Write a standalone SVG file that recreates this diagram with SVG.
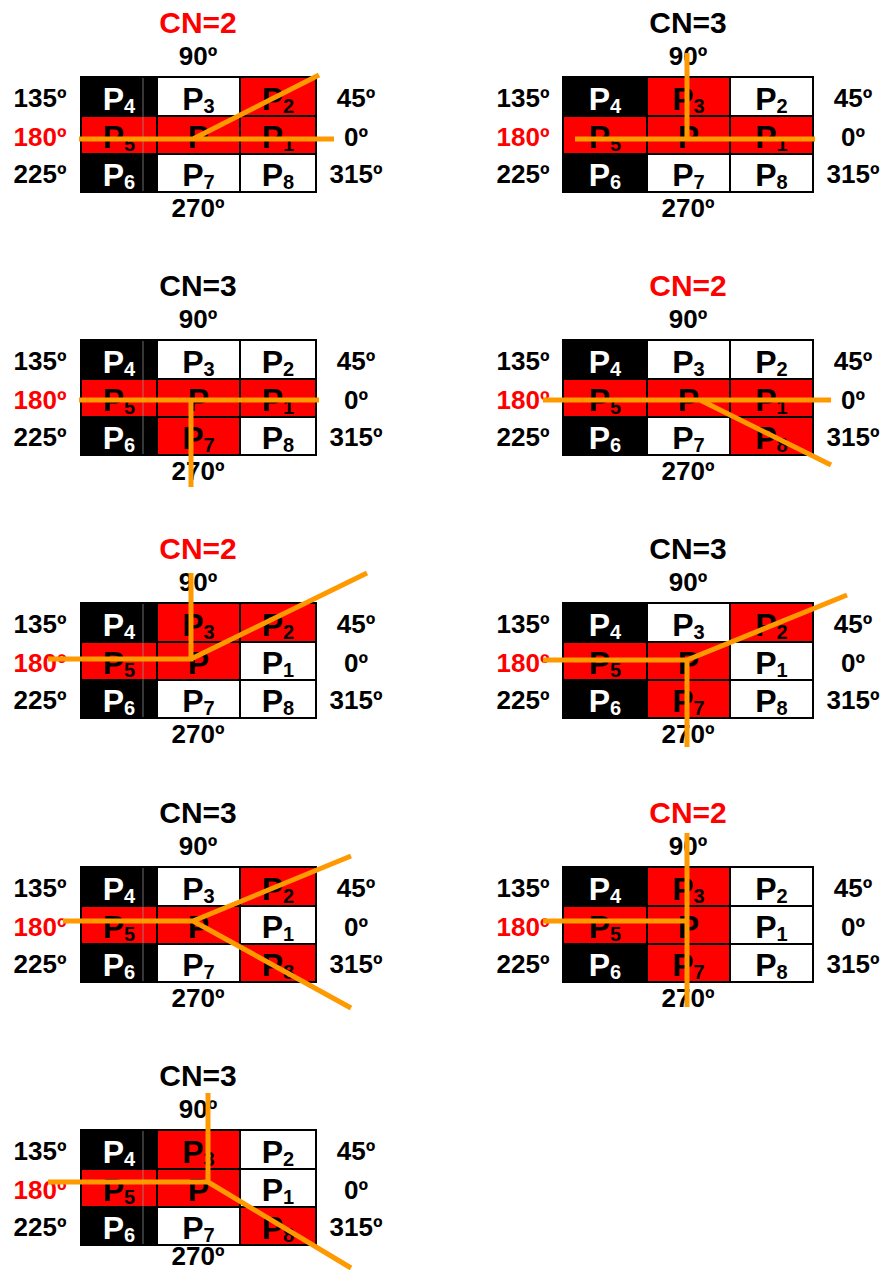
<svg xmlns="http://www.w3.org/2000/svg" width="884" height="1272" viewBox="0 0 884 1272">
<style>
text{font-family:"Liberation Sans",Arial,sans-serif;font-weight:bold;text-anchor:middle}
.cn{font-size:30px;fill:#000}
.lb{font-size:26px;fill:#000}
.red{fill:#FF0000}
.p{font-size:32px;fill:#000}
.pw{font-size:32px;fill:#fff}
.s{font-size:20px}
.k{fill:#000;stroke:#000;stroke-width:2}
.r{fill:#FF0000;stroke:#000;stroke-width:2}
.w{fill:#fff;stroke:#000;stroke-width:2}
.gl{stroke:#9a9a9a;stroke-width:1;opacity:0.7}
.o{fill:none;stroke:#FF9900;stroke-width:5;stroke-linejoin:miter}
</style>
<rect width="884" height="1272" fill="#fff"/>

<!-- Left panel 1 -->
<g id="panel-L1">
<text class="cn red" x="198" y="33">CN=2</text>
<text class="lb" x="198" y="65">90º</text>
<text class="lb" x="40" y="107">135º</text>
<text class="lb red" x="40" y="146">180º</text>
<text class="lb" x="40" y="183">225º</text>
<text class="lb" x="356" y="107">45º</text>
<text class="lb" x="356" y="146">0º</text>
<text class="lb" x="356" y="183">315º</text>
<text class="lb" x="198" y="217">270º</text>
<rect class="k" x="81" y="77" width="76" height="39"/>
<rect class="w" x="157" y="77" width="83" height="39"/>
<rect class="r" x="240" y="77" width="76" height="39"/>
<rect class="r" x="81" y="116" width="76" height="38"/>
<rect class="r" x="157" y="116" width="83" height="38"/>
<rect class="r" x="240" y="116" width="76" height="38"/>
<rect class="k" x="81" y="154" width="76" height="38"/>
<rect class="w" x="157" y="154" width="83" height="38"/>
<rect class="w" x="240" y="154" width="76" height="38"/>
<line class="gl" x1="143" y1="78" x2="143" y2="191"/>
<text class="pw" x="119" y="110">P<tspan class="s" dy="3">4</tspan></text>
<text class="p" x="198.5" y="110">P<tspan class="s" dy="3">3</tspan></text>
<text class="p" x="278" y="110">P<tspan class="s" dy="3">2</tspan></text>
<text class="p" x="119" y="148">P<tspan class="s" dy="3">5</tspan></text>
<text class="p" x="198.5" y="148">P</text>
<text class="p" x="278" y="148">P<tspan class="s" dy="3">1</tspan></text>
<text class="pw" x="119" y="186">P<tspan class="s" dy="3">6</tspan></text>
<text class="p" x="198.5" y="186">P<tspan class="s" dy="3">7</tspan></text>
<text class="p" x="278" y="186">P<tspan class="s" dy="3">8</tspan></text>
</g>

<!-- Right panel 1 -->
<g id="panel-R1">
<text class="cn" x="688" y="33">CN=3</text>
<text class="lb" x="688" y="65">90º</text>
<text class="lb" x="523" y="107">135º</text>
<text class="lb red" x="523" y="146">180º</text>
<text class="lb" x="523" y="183">225º</text>
<text class="lb" x="853" y="107">45º</text>
<text class="lb" x="853" y="146">0º</text>
<text class="lb" x="853" y="183">315º</text>
<text class="lb" x="688" y="217">270º</text>
<rect class="k" x="563" y="77" width="84" height="39"/>
<rect class="r" x="647" y="77" width="83" height="39"/>
<rect class="w" x="730" y="77" width="83" height="39"/>
<rect class="r" x="563" y="116" width="84" height="38"/>
<rect class="r" x="647" y="116" width="83" height="38"/>
<rect class="r" x="730" y="116" width="83" height="38"/>
<rect class="k" x="563" y="154" width="84" height="38"/>
<rect class="w" x="647" y="154" width="83" height="38"/>
<rect class="w" x="730" y="154" width="83" height="38"/>
<text class="pw" x="605" y="110">P<tspan class="s" dy="3">4</tspan></text>
<text class="p" x="688.5" y="110">P<tspan class="s" dy="3">3</tspan></text>
<text class="p" x="771.5" y="110">P<tspan class="s" dy="3">2</tspan></text>
<text class="p" x="605" y="148">P<tspan class="s" dy="3">5</tspan></text>
<text class="p" x="688.5" y="148">P</text>
<text class="p" x="771.5" y="148">P<tspan class="s" dy="3">1</tspan></text>
<text class="pw" x="605" y="186">P<tspan class="s" dy="3">6</tspan></text>
<text class="p" x="688.5" y="186">P<tspan class="s" dy="3">7</tspan></text>
<text class="p" x="771.5" y="186">P<tspan class="s" dy="3">8</tspan></text>
</g>

<!-- Left panel 2 -->
<g id="panel-L2" transform="translate(0,263)">
<text class="cn" x="198" y="33">CN=3</text>
<text class="lb" x="198" y="65">90º</text>
<text class="lb" x="40" y="107">135º</text>
<text class="lb red" x="40" y="146">180º</text>
<text class="lb" x="40" y="183">225º</text>
<text class="lb" x="356" y="107">45º</text>
<text class="lb" x="356" y="146">0º</text>
<text class="lb" x="356" y="183">315º</text>
<text class="lb" x="198" y="217">270º</text>
<rect class="k" x="81" y="77" width="76" height="39"/>
<rect class="w" x="157" y="77" width="83" height="39"/>
<rect class="w" x="240" y="77" width="76" height="39"/>
<rect class="r" x="81" y="116" width="76" height="38"/>
<rect class="r" x="157" y="116" width="83" height="38"/>
<rect class="r" x="240" y="116" width="76" height="38"/>
<rect class="k" x="81" y="154" width="76" height="38"/>
<rect class="r" x="157" y="154" width="83" height="38"/>
<rect class="w" x="240" y="154" width="76" height="38"/>
<line class="gl" x1="143" y1="78" x2="143" y2="191"/>
<text class="pw" x="119" y="110">P<tspan class="s" dy="3">4</tspan></text>
<text class="p" x="198.5" y="110">P<tspan class="s" dy="3">3</tspan></text>
<text class="p" x="278" y="110">P<tspan class="s" dy="3">2</tspan></text>
<text class="p" x="119" y="148">P<tspan class="s" dy="3">5</tspan></text>
<text class="p" x="198.5" y="148">P</text>
<text class="p" x="278" y="148">P<tspan class="s" dy="3">1</tspan></text>
<text class="pw" x="119" y="186">P<tspan class="s" dy="3">6</tspan></text>
<text class="p" x="198.5" y="186">P<tspan class="s" dy="3">7</tspan></text>
<text class="p" x="278" y="186">P<tspan class="s" dy="3">8</tspan></text>
</g>

<!-- Right panel 2 -->
<g id="panel-R2" transform="translate(0,263)">
<text class="cn red" x="688" y="33">CN=2</text>
<text class="lb" x="688" y="65">90º</text>
<text class="lb" x="523" y="107">135º</text>
<text class="lb red" x="523" y="146">180º</text>
<text class="lb" x="523" y="183">225º</text>
<text class="lb" x="853" y="107">45º</text>
<text class="lb" x="853" y="146">0º</text>
<text class="lb" x="853" y="183">315º</text>
<text class="lb" x="688" y="217">270º</text>
<rect class="k" x="563" y="77" width="84" height="39"/>
<rect class="w" x="647" y="77" width="83" height="39"/>
<rect class="w" x="730" y="77" width="83" height="39"/>
<rect class="r" x="563" y="116" width="84" height="38"/>
<rect class="r" x="647" y="116" width="83" height="38"/>
<rect class="r" x="730" y="116" width="83" height="38"/>
<rect class="k" x="563" y="154" width="84" height="38"/>
<rect class="w" x="647" y="154" width="83" height="38"/>
<rect class="r" x="730" y="154" width="83" height="38"/>
<text class="pw" x="605" y="110">P<tspan class="s" dy="3">4</tspan></text>
<text class="p" x="688.5" y="110">P<tspan class="s" dy="3">3</tspan></text>
<text class="p" x="771.5" y="110">P<tspan class="s" dy="3">2</tspan></text>
<text class="p" x="605" y="148">P<tspan class="s" dy="3">5</tspan></text>
<text class="p" x="688.5" y="148">P</text>
<text class="p" x="771.5" y="148">P<tspan class="s" dy="3">1</tspan></text>
<text class="pw" x="605" y="186">P<tspan class="s" dy="3">6</tspan></text>
<text class="p" x="688.5" y="186">P<tspan class="s" dy="3">7</tspan></text>
<text class="p" x="771.5" y="186">P<tspan class="s" dy="3">8</tspan></text>
</g>

<!-- Left panel 3 -->
<g id="panel-L3" transform="translate(0,526)">
<text class="cn red" x="198" y="33">CN=2</text>
<text class="lb" x="198" y="65">90º</text>
<text class="lb" x="40" y="107">135º</text>
<text class="lb red" x="40" y="146">180º</text>
<text class="lb" x="40" y="183">225º</text>
<text class="lb" x="356" y="107">45º</text>
<text class="lb" x="356" y="146">0º</text>
<text class="lb" x="356" y="183">315º</text>
<text class="lb" x="198" y="217">270º</text>
<rect class="k" x="81" y="77" width="76" height="39"/>
<rect class="r" x="157" y="77" width="83" height="39"/>
<rect class="r" x="240" y="77" width="76" height="39"/>
<rect class="r" x="81" y="116" width="76" height="38"/>
<rect class="r" x="157" y="116" width="83" height="38"/>
<rect class="w" x="240" y="116" width="76" height="38"/>
<rect class="k" x="81" y="154" width="76" height="38"/>
<rect class="w" x="157" y="154" width="83" height="38"/>
<rect class="w" x="240" y="154" width="76" height="38"/>
<line class="gl" x1="143" y1="78" x2="143" y2="191"/>
<text class="pw" x="119" y="110">P<tspan class="s" dy="3">4</tspan></text>
<text class="p" x="198.5" y="110">P<tspan class="s" dy="3">3</tspan></text>
<text class="p" x="278" y="110">P<tspan class="s" dy="3">2</tspan></text>
<text class="p" x="119" y="148">P<tspan class="s" dy="3">5</tspan></text>
<text class="p" x="198.5" y="148">P</text>
<text class="p" x="278" y="148">P<tspan class="s" dy="3">1</tspan></text>
<text class="pw" x="119" y="186">P<tspan class="s" dy="3">6</tspan></text>
<text class="p" x="198.5" y="186">P<tspan class="s" dy="3">7</tspan></text>
<text class="p" x="278" y="186">P<tspan class="s" dy="3">8</tspan></text>
</g>

<!-- Right panel 3 -->
<g id="panel-R3" transform="translate(0,526)">
<text class="cn" x="688" y="33">CN=3</text>
<text class="lb" x="688" y="65">90º</text>
<text class="lb" x="523" y="107">135º</text>
<text class="lb red" x="523" y="146">180º</text>
<text class="lb" x="523" y="183">225º</text>
<text class="lb" x="853" y="107">45º</text>
<text class="lb" x="853" y="146">0º</text>
<text class="lb" x="853" y="183">315º</text>
<text class="lb" x="688" y="217">270º</text>
<rect class="k" x="563" y="77" width="84" height="39"/>
<rect class="w" x="647" y="77" width="83" height="39"/>
<rect class="r" x="730" y="77" width="83" height="39"/>
<rect class="r" x="563" y="116" width="84" height="38"/>
<rect class="r" x="647" y="116" width="83" height="38"/>
<rect class="w" x="730" y="116" width="83" height="38"/>
<rect class="k" x="563" y="154" width="84" height="38"/>
<rect class="r" x="647" y="154" width="83" height="38"/>
<rect class="w" x="730" y="154" width="83" height="38"/>
<text class="pw" x="605" y="110">P<tspan class="s" dy="3">4</tspan></text>
<text class="p" x="688.5" y="110">P<tspan class="s" dy="3">3</tspan></text>
<text class="p" x="771.5" y="110">P<tspan class="s" dy="3">2</tspan></text>
<text class="p" x="605" y="148">P<tspan class="s" dy="3">5</tspan></text>
<text class="p" x="688.5" y="148">P</text>
<text class="p" x="771.5" y="148">P<tspan class="s" dy="3">1</tspan></text>
<text class="pw" x="605" y="186">P<tspan class="s" dy="3">6</tspan></text>
<text class="p" x="688.5" y="186">P<tspan class="s" dy="3">7</tspan></text>
<text class="p" x="771.5" y="186">P<tspan class="s" dy="3">8</tspan></text>
</g>

<!-- Left panel 4 -->
<g id="panel-L4" transform="translate(0,790)">
<text class="cn" x="198" y="33">CN=3</text>
<text class="lb" x="198" y="65">90º</text>
<text class="lb" x="40" y="107">135º</text>
<text class="lb red" x="40" y="146">180º</text>
<text class="lb" x="40" y="183">225º</text>
<text class="lb" x="356" y="107">45º</text>
<text class="lb" x="356" y="146">0º</text>
<text class="lb" x="356" y="183">315º</text>
<text class="lb" x="198" y="217">270º</text>
<rect class="k" x="81" y="77" width="76" height="39"/>
<rect class="w" x="157" y="77" width="83" height="39"/>
<rect class="r" x="240" y="77" width="76" height="39"/>
<rect class="r" x="81" y="116" width="76" height="38"/>
<rect class="r" x="157" y="116" width="83" height="38"/>
<rect class="w" x="240" y="116" width="76" height="38"/>
<rect class="k" x="81" y="154" width="76" height="38"/>
<rect class="w" x="157" y="154" width="83" height="38"/>
<rect class="r" x="240" y="154" width="76" height="38"/>
<line class="gl" x1="143" y1="78" x2="143" y2="191"/>
<text class="pw" x="119" y="110">P<tspan class="s" dy="3">4</tspan></text>
<text class="p" x="198.5" y="110">P<tspan class="s" dy="3">3</tspan></text>
<text class="p" x="278" y="110">P<tspan class="s" dy="3">2</tspan></text>
<text class="p" x="119" y="148">P<tspan class="s" dy="3">5</tspan></text>
<text class="p" x="198.5" y="148">P</text>
<text class="p" x="278" y="148">P<tspan class="s" dy="3">1</tspan></text>
<text class="pw" x="119" y="186">P<tspan class="s" dy="3">6</tspan></text>
<text class="p" x="198.5" y="186">P<tspan class="s" dy="3">7</tspan></text>
<text class="p" x="278" y="186">P<tspan class="s" dy="3">8</tspan></text>
</g>

<!-- Right panel 4 -->
<g id="panel-R4" transform="translate(0,790)">
<text class="cn red" x="688" y="33">CN=2</text>
<text class="lb" x="688" y="65">90º</text>
<text class="lb" x="523" y="107">135º</text>
<text class="lb red" x="523" y="146">180º</text>
<text class="lb" x="523" y="183">225º</text>
<text class="lb" x="853" y="107">45º</text>
<text class="lb" x="853" y="146">0º</text>
<text class="lb" x="853" y="183">315º</text>
<text class="lb" x="688" y="217">270º</text>
<rect class="k" x="563" y="77" width="84" height="39"/>
<rect class="r" x="647" y="77" width="83" height="39"/>
<rect class="w" x="730" y="77" width="83" height="39"/>
<rect class="r" x="563" y="116" width="84" height="38"/>
<rect class="r" x="647" y="116" width="83" height="38"/>
<rect class="w" x="730" y="116" width="83" height="38"/>
<rect class="k" x="563" y="154" width="84" height="38"/>
<rect class="r" x="647" y="154" width="83" height="38"/>
<rect class="w" x="730" y="154" width="83" height="38"/>
<text class="pw" x="605" y="110">P<tspan class="s" dy="3">4</tspan></text>
<text class="p" x="688.5" y="110">P<tspan class="s" dy="3">3</tspan></text>
<text class="p" x="771.5" y="110">P<tspan class="s" dy="3">2</tspan></text>
<text class="p" x="605" y="148">P<tspan class="s" dy="3">5</tspan></text>
<text class="p" x="688.5" y="148">P</text>
<text class="p" x="771.5" y="148">P<tspan class="s" dy="3">1</tspan></text>
<text class="pw" x="605" y="186">P<tspan class="s" dy="3">6</tspan></text>
<text class="p" x="688.5" y="186">P<tspan class="s" dy="3">7</tspan></text>
<text class="p" x="771.5" y="186">P<tspan class="s" dy="3">8</tspan></text>
</g>

<!-- Left panel 5 -->
<g id="panel-L5" transform="translate(0,1053)">
<text class="cn" x="198" y="33">CN=3</text>
<text class="lb" x="198" y="65">90º</text>
<text class="lb" x="40" y="107">135º</text>
<text class="lb red" x="40" y="146">180º</text>
<text class="lb" x="40" y="183">225º</text>
<text class="lb" x="356" y="107">45º</text>
<text class="lb" x="356" y="146">0º</text>
<text class="lb" x="356" y="183">315º</text>
<text class="lb" x="198" y="212">270º</text>
<rect class="k" x="81" y="77" width="76" height="39"/>
<rect class="r" x="157" y="77" width="83" height="39"/>
<rect class="w" x="240" y="77" width="76" height="39"/>
<rect class="r" x="81" y="116" width="76" height="38"/>
<rect class="r" x="157" y="116" width="83" height="38"/>
<rect class="w" x="240" y="116" width="76" height="38"/>
<rect class="k" x="81" y="154" width="76" height="38"/>
<rect class="w" x="157" y="154" width="83" height="38"/>
<rect class="r" x="240" y="154" width="76" height="38"/>
<line class="gl" x1="143" y1="78" x2="143" y2="191"/>
<text class="pw" x="119" y="110">P<tspan class="s" dy="3">4</tspan></text>
<text class="p" x="198.5" y="110">P<tspan class="s" dy="3">3</tspan></text>
<text class="p" x="278" y="110">P<tspan class="s" dy="3">2</tspan></text>
<text class="p" x="119" y="148">P<tspan class="s" dy="3">5</tspan></text>
<text class="p" x="198.5" y="148">P</text>
<text class="p" x="278" y="148">P<tspan class="s" dy="3">1</tspan></text>
<text class="pw" x="119" y="186">P<tspan class="s" dy="3">6</tspan></text>
<text class="p" x="198.5" y="186">P<tspan class="s" dy="3">7</tspan></text>
<text class="p" x="278" y="186">P<tspan class="s" dy="3">8</tspan></text>
</g>

<g id="connectors">
<path class="o" d="M79,139 H334 M193,139 L319,75"/>
<path class="o" d="M575,139 H815 M687,53 V139"/>
<path class="o" d="M79,400 H319 M191,400 V487"/>
<path class="o" d="M543,400 H831 M700,400 L831,465"/>
<path class="o" d="M48,659 H191 V573 M191,659 L367,573"/>
<path class="o" d="M543,660 H687 V747 M687,660 L847,595"/>
<path class="o" d="M63,921 H193 L351,856 M193,921 L351,1008"/>
<path class="o" d="M543,921 H687 M687,833 V1007"/>
<path class="o" d="M48,1182 H208 V1093 M208,1182 L351,1268"/>
</g>
</svg>
